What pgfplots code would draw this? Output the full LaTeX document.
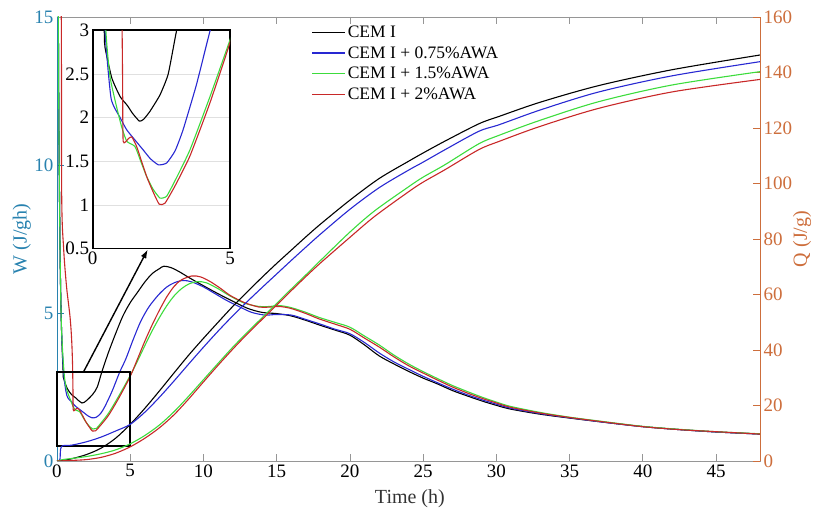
\documentclass[border=0pt]{standalone}
\usepackage{fontspec}
\setmainfont{Liberation Serif}
\usepackage{pgfplots}
\usepackage{pgfplotstable}
\pgfplotsset{compat=1.18}
\usetikzlibrary{arrows.meta}

\definecolor{wcol}{RGB}{40,130,175}
\definecolor{qcol}{RGB}{205,110,60}
\definecolor{cblue}{RGB}{40,40,210}
\definecolor{cgreen}{RGB}{60,220,60}
\definecolor{cred}{RGB}{200,40,40}
\definecolor{axgray}{RGB}{150,150,150}

\newcommand{\ticksize}{\fontsize{19}{22}\selectfont}
\newcommand{\labsize}{\fontsize{20}{24}\selectfont}
\newcommand{\legsize}{\fontsize{17.5}{20}\selectfont}

% heat flow W (J/gh)
\pgfplotstableread{
t W
0 30
0.1 14
0.2 7.5
0.3 4.6
0.42 3.0
0.45 2.8
0.7 2.45
1.0 2.24
1.26 2.14
1.45 2.05
1.7 1.96
1.85 1.98
2.08 2.07
2.45 2.26
2.75 2.5
3.05 2.99
3.5 3.65
4.0 4.3
4.5 4.9
5.0 5.35
5.5 5.7
6.0 6.05
6.5 6.33
7.0 6.5
7.3 6.58
7.8 6.53
8.4 6.38
9.0 6.2
10.0 5.92
11.0 5.65
12.0 5.4
13.0 5.16
14.0 5.02
15.0 4.98
16.0 4.9
17.0 4.75
18.0 4.58
19.0 4.42
20.0 4.25
21.0 3.92
22.0 3.55
23.0 3.28
24.0 3.03
25.0 2.8
26.0 2.6
27.0 2.38
28.0 2.2
29.0 2.03
30.0 1.88
31.0 1.75
33.0 1.58
35.0 1.45
37.5 1.3
40.0 1.16
42.5 1.06
45.0 0.98
48.0 0.91
}\wblack

\pgfplotstableread{
t W
0 30
0.1 14
0.2 7.5
0.3 4.6
0.45 3.0
0.67 2.22
1.0 2.0
1.24 1.86
1.55 1.74
1.84 1.63
2.1 1.53
2.39 1.46
2.69 1.48
3.0 1.62
3.29 1.86
3.78 2.38
4.27 2.99
4.7 3.45
5.2 4.1
5.7 4.7
6.2 5.15
6.57 5.4
7.0 5.65
7.5 5.88
8.0 6.02
8.6 6.1
9.2 6.05
10.0 5.88
10.8 5.65
11.6 5.42
12.5 5.2
13.3 5.02
14.2 4.93
15.0 4.95
16.0 4.93
17.0 4.78
18.0 4.62
19.0 4.45
20.0 4.3
21.0 4.0
22.0 3.65
23.0 3.35
24.0 3.1
25.0 2.86
26.0 2.64
27.0 2.43
28.0 2.24
29.0 2.07
30.0 1.92
31.0 1.78
33.0 1.6
35.0 1.46
37.5 1.3
40.0 1.16
42.5 1.06
45.0 0.98
48.0 0.91
}\wblue

\pgfplotstableread{
t W
0 30
0.1 14
0.2 7.5
0.3 4.6
0.48 3.0
0.63 2.47
0.85 2.15
1.05 1.9
1.24 1.73
1.54 1.67
1.75 1.5
1.96 1.33
2.2 1.18
2.45 1.08
2.69 1.10
3.0 1.28
3.54 1.63
4.27 2.24
5.0 2.89
5.5 3.38
6.0 3.9
6.5 4.4
7.0 4.85
7.5 5.25
8.0 5.58
8.5 5.82
9.0 5.98
9.6 6.06
10.2 6.02
11.0 5.82
11.8 5.58
12.8 5.33
13.8 5.22
14.5 5.22
15.2 5.25
16.0 5.18
17.0 5.02
17.9 4.85
19.0 4.68
20.0 4.52
21.0 4.22
22.0 3.92
23.0 3.58
24.0 3.28
25.0 3.02
26.0 2.78
27.0 2.55
28.0 2.35
29.0 2.16
30.0 1.99
31.0 1.84
33.0 1.64
35.0 1.48
37.5 1.32
40.0 1.17
42.5 1.07
45.0 0.99
48.0 0.92
}\wgreen

\pgfplotstableread{
t W
0 30
0.28 16
0.32 9
0.45 7.2
0.65 5.9
0.89 4.87
1.0 4.1
1.06 3.3
1.09 2.4
1.11 1.73
1.3 1.76
1.42 1.78
1.6 1.67
1.96 1.33
2.2 1.15
2.42 1.01
2.63 1.02
3.0 1.22
3.54 1.56
4.27 2.17
5.0 2.86
5.5 3.45
6.0 4.05
6.5 4.6
7.0 5.1
7.5 5.55
8.0 5.9
8.5 6.12
9.2 6.25
9.8 6.22
10.5 6.05
11.2 5.82
11.8 5.6
12.8 5.35
13.8 5.2
14.5 5.2
15.2 5.22
16.0 5.15
17.0 4.98
17.9 4.8
19.0 4.62
20.0 4.45
21.0 4.15
22.0 3.85
23.0 3.52
24.0 3.22
25.0 2.97
26.0 2.73
27.0 2.5
28.0 2.3
29.0 2.12
30.0 1.96
31.0 1.81
33.0 1.62
35.0 1.47
37.5 1.31
40.0 1.16
42.5 1.06
45.0 0.99
48.0 0.91
}\wred

% cumulative heat Q (J/g)
\pgfplotstableread{
t Q
0 0
0.5 0.3
1 0.8
2 2.3
3 4.6
4 8.2
5 13.2
6 19
7 25.3
8 31.8
9 38.2
10 44.2
11 50
12 55.7
13 61
14 66.2
15 71.2
16 76
17 80.8
18 85.4
20 94
22 101.8
24 108
25 111
26.5 115.3
28.8 121.5
30.2 124.2
33 129.3
37 135.3
42 141
48 146.3
}\qblack

\pgfplotstableread{
t Q
0 0
0.2 0.5
0.3 5.2
1 5.7
2 6.9
3 8.6
4 10.8
5 13.2
6 17.6
7 23
8 28.9
9 35
10 41
11 46.8
12 52.3
13 57.5
14 62.5
15 67.4
16 72.3
17 77.1
18 81.8
20 90.7
22 98.5
24 104.8
25 107.7
26.5 112.2
28.8 118.8
30.2 121.2
33 126.5
37 133
42 138.8
48 143.9
}\qblue

\pgfplotstableread{
t Q
0 0
0.5 0.6
1 0.9
2 1.6
3 2.6
4 4.0
5 6.2
6 9.2
7 13.0
8 17.8
9 23.4
10 29.3
11 35.2
12 41
13 46.4
14 51.6
15 56.8
16 62
17 67.1
18 72.3
20 82.5
21.7 90.2
24 98.8
25 102.3
26.5 106.8
28.8 114.3
30.2 117.4
33 122.8
37 129.5
42 135.5
48 140.3
}\qgreen

\pgfplotstableread{
t Q
0 0
1 0.2
2 0.5
3 1.3
4 2.8
5 5.1
6 8.2
7 12.0
8 16.7
9 22.4
10 28.5
11 34.5
12 40.3
13 45.8
14 51.0
15 56.2
16 61.4
17 66.5
18 71.4
20 80.6
21.7 88.2
24 97
25 100.5
26.5 105
28.8 112.2
30.2 115.2
33 120.6
37 127.1
42 133
48 137.5
}\qred

\begin{document}
\begin{tikzpicture}
\path[use as bounding box] (0,0) rectangle (823pt,511pt);

% left axis: W
\begin{axis}[
  at={(57pt,50pt)}, anchor=south west,
  width=703pt, height=444pt, scale only axis,
  xmin=0, xmax=48, ymin=0, ymax=15,
  xtick={0,5,...,45}, ytick={0,5,10,15},
  tick align=inside, major tick length=7pt,
  ytick pos=left, xticklabel pos=lower,
  axis line style={draw=axgray, line width=0.8pt},
  x tick style={axgray, line width=0.8pt},
  y tick style={wcol, line width=0.8pt},
  yticklabel style={text=wcol},
  tick label style={font=\ticksize},
  /pgf/number format/assume math mode=true,
  xlabel={Time (h)},
  xlabel style={font=\labsize, text=black!80, at={(axis description cs:0.502,-0.084)}, anchor=center},
  ylabel={W (J/gh)},
  ylabel style={font=\labsize, text=wcol, at={(axis description cs:-0.05,0.5)}, anchor=center},
  clip mode=individual,
  legend style={at={(axis description cs:0.362,0.985)}, anchor=north west,
    draw=none, fill=none, font=\legsize, inner sep=0pt, row sep=3.5pt},
  legend cell align=left,
  legend image code/.code={\draw[#1, sharp plot, line width=1.1pt] (0pt,0pt) -- (33pt,0pt);},
]
\addplot[black, line width=1.1pt, smooth, tension=0.5] table[x=t, y=W] {\wblack};
\addlegendentry{CEM I}
\addplot[cblue, line width=1.1pt, smooth, tension=0.5] table[x=t, y=W] {\wblue};
\addlegendentry{CEM I + 0.75\%AWA}
\addplot[cgreen, line width=1.1pt, smooth, tension=0.5] table[x=t, y=W] {\wgreen};
\addlegendentry{CEM I + 1.5\%AWA}
\addplot[cred, line width=1.1pt, smooth, tension=0.5] table[x=t, y=W] {\wred};
\addlegendentry{CEM I + 2\%AWA}
\draw[wcol, line width=0.8pt] (rel axis cs:0,0) -- (rel axis cs:0,1);
\draw[black, line width=1.6pt] (axis cs:0,0.5) rectangle (axis cs:5,3);
\draw[black, line width=1.4pt, -{Latex[length=9pt, width=6pt]}] (axis cs:1.8,3) -- (axis cs:6.2,7.15);
\end{axis}

% right axis: Q
\begin{axis}[
  at={(57pt,50pt)}, anchor=south west,
  width=703pt, height=444pt, scale only axis,
  xmin=0, xmax=48, ymin=0, ymax=160,
  hide x axis,
  axis line style={draw=none},
  ytick={0,20,...,160},
  ytick pos=right, yticklabel pos=right,
  tick align=inside, major tick length=7pt,
  y tick style={qcol, line width=0.8pt},
  yticklabel style={text=qcol},
  tick label style={font=\ticksize},
  /pgf/number format/assume math mode=true,
  ylabel={Q (J/g)},
  ylabel style={font=\labsize, text=qcol, at={(axis description cs:1.06,0.5)}, anchor=center},
  clip mode=individual,
]
\addplot[black, line width=1.1pt, smooth, tension=0.5] table[x=t, y=Q] {\qblack};
\addplot[cblue, line width=1.1pt, smooth, tension=0.5] table[x=t, y=Q] {\qblue};
\addplot[cgreen, line width=1.1pt, smooth, tension=0.5] table[x=t, y=Q] {\qgreen};
\addplot[cred, line width=1.1pt, smooth, tension=0.5] table[x=t, y=Q] {\qred};
\draw[qcol, line width=0.8pt] (rel axis cs:1,0) -- (rel axis cs:1,1);
\end{axis}

% inset: zoom on the induction period
\begin{axis}[
  at={(92.7pt,262.3pt)}, anchor=south west,
  width=137.3pt, height=218.4pt, scale only axis,
  xmin=0, xmax=5, ymin=0.5, ymax=3,
  xtick={0,5}, ytick={0.5,1,1.5,2,2.5,3},
  major tick length=0pt,
  ymajorgrids, grid style={black!12, line width=0.5pt},
  axis background/.style={fill=white},
  axis line style={black, line width=1.6pt},
  tick label style={font=\ticksize},
  /pgf/number format/assume math mode=true,
]
\addplot[black, line width=1.1pt, smooth, tension=0.3] table[x=t, y=W] {\wblack};
\addplot[cblue, line width=1.1pt, smooth, tension=0.3] table[x=t, y=W] {\wblue};
\addplot[cgreen, line width=1.1pt, smooth, tension=0.3] table[x=t, y=W] {\wgreen};
\addplot[cred, line width=1.1pt, smooth, tension=0.3] table[x=t, y=W] {\wred};
\end{axis}
\end{tikzpicture}
\end{document}
